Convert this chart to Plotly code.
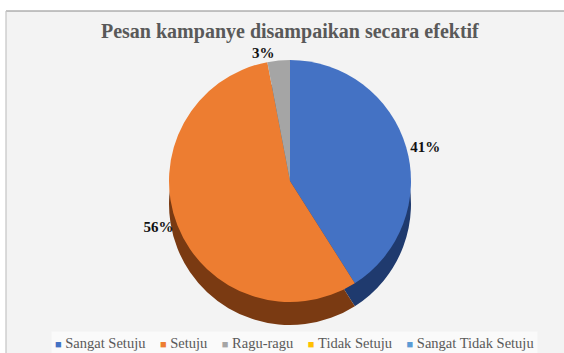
import plotly.graph_objects as go

title = "Pesan kampanye disampaikan secara efektif"
labels = ["Sangat Setuju", "Setuju", "Ragu-ragu", "Tidak Setuju", "Sangat Tidak Setuju"]
values = [41, 56, 3, 0, 0]
colors = ["#4472C4", "#ED7D31", "#A5A5A5", "#FFC000", "#5B9BD5"]
side_colors = ["#1F3A6E", "#7A3A12", "#5E5E5E", "#8C6A00", "#2F5680"]

W, H = 564, 353
cx, cy, r, depth = 290, 181, 121, 23

def dom(cx_, cy_):
    return dict(x=[(cx_ - r) / W, (cx_ + r) / W],
                y=[1 - (cy_ + r) / H, 1 - (cy_ - r) / H])

texts = ["<b>%{percent:.0%}</b>" if v > 0 else "" for v in values]

fig = go.Figure()
# side (depth) of the pie
fig.add_trace(go.Pie(
    labels=labels, values=values, sort=False, direction="clockwise", rotation=0,
    marker=dict(colors=side_colors, line=dict(width=0)),
    textinfo="none", hoverinfo="skip", showlegend=False,
    domain=dom(cx, cy + depth),
))
# top face
fig.add_trace(go.Pie(
    labels=labels, values=values, sort=False, direction="clockwise", rotation=0,
    marker=dict(colors=colors, line=dict(width=0)),
    texttemplate=texts, textposition="outside", showlegend=False,
    outsidetextfont=dict(family="Liberation Serif", size=15, color="#111111"),
    domain=dom(cx, cy),
))

# legend line built from the label / colour lists
sep = "\u00a0" * 4
legend_text = sep.join(
    f"<span style='color:{c};font-size:11px'>■</span>\u00a0{lab}"
    for lab, c in zip(labels, colors)
)

fig.update_layout(
    width=W, height=H,
    margin=dict(l=0, r=0, t=0, b=0),
    paper_bgcolor="white",
    title=dict(text="<b>" + title + "</b>", x=0.514, xanchor="center",
               y=1 - 31 / H, yanchor="middle",
               font=dict(family="Liberation Serif", size=20, color="#595959")),
    annotations=[dict(
        text=legend_text, xref="paper", yref="paper", x=0.523, y=1 - 343 / H,
        xanchor="center", yanchor="middle", showarrow=False,
        font=dict(family="Liberation Serif, Times New Roman, serif", size=14.5, color="#595959"),
        bgcolor="#FAFAFA", borderpad=3,
    )],
    shapes=[
        dict(type="rect", xref="paper", yref="paper", x0=6 / W, x1=1.02,
             y0=-0.02, y1=1 - 11 / H, fillcolor="#F3F3F3",
             line=dict(width=0), layer="below"),
        dict(type="line", xref="paper", yref="paper", x0=6 / W, x1=1.0,
             y0=1 - 11 / H, y1=1 - 11 / H, line=dict(color="#8A8A8A", width=1.2)),
        dict(type="line", xref="paper", yref="paper", x0=6 / W, x1=6 / W,
             y0=0, y1=1 - 11 / H, line=dict(color="#C4C4C4", width=1.2)),
    ],
)

fig.write_html("out.html")
